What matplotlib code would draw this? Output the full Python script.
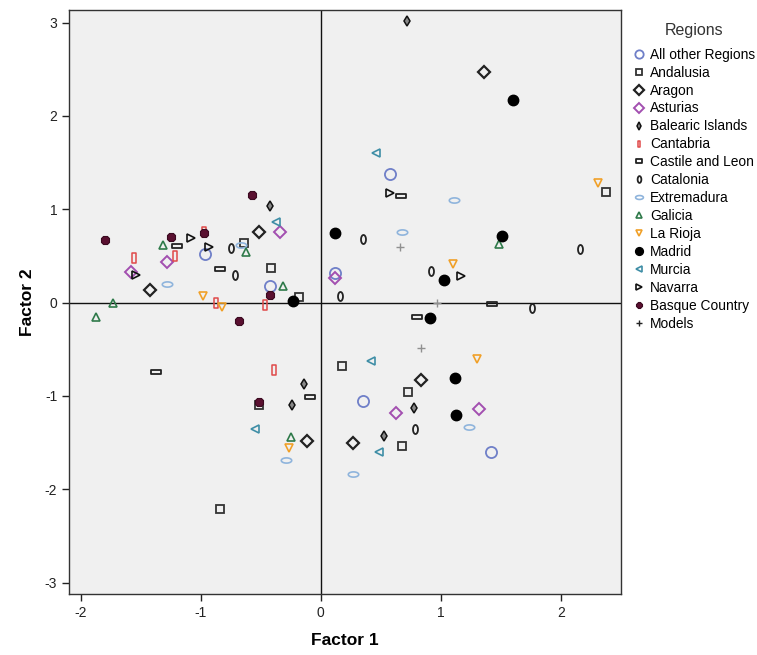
import numpy as np
import matplotlib
matplotlib.use("Agg")
import matplotlib.pyplot as plt
from matplotlib.path import Path

plt.rcParams['font.family'] = ['Liberation Sans', 'DejaVu Sans']
plt.rcParams['axes.unicode_minus'] = False

# ---- data (Factor 1, Factor 2) ----
all_other_x = [-0.96, -0.425, 0.575, 0.12, 0.35, 1.42]
all_other_y = [0.52, 0.18, 1.38, 0.32, -1.05, -1.60]

andalusia_x = [-0.64, -0.41, -0.18, -0.51, -0.84, 2.38, 0.175, 0.73, 0.68]
andalusia_y = [0.64, 0.37, 0.06, -1.10, -2.21, 1.19, -0.68, -0.96, -1.54]

aragon_x = [-0.51, -1.42, -0.11, 1.36, 0.84, 0.27]
aragon_y = [0.76, 0.13, -1.48, 2.47, -0.83, -1.50]

asturias_x = [-0.34, -1.28, -1.58, 0.12, 0.63, 1.32]
asturias_y = [0.76, 0.43, 0.33, 0.26, -1.18, -1.14]

balearic_x = [-0.425, -0.14, -0.24, 0.72, 0.78, 0.53]
balearic_y = [1.035, -0.87, -1.10, 3.02, -1.13, -1.43]

cantabria_x = [-0.97, -1.555, -1.21, -0.87, -0.46, -0.39]
cantabria_y = [0.76, 0.48, 0.50, 0.0, -0.03, -0.72]

castile_x = [-1.20, -0.84, -1.37, -0.09, 0.67, 1.43, 0.80]
castile_y = [0.61, 0.36, -0.74, -1.01, 1.14, -0.02, -0.15]

catalonia_x = [-0.75, -0.71, 0.35, 2.16, 0.92, 0.16, 1.76, 0.79]
catalonia_y = [0.58, 0.30, 0.68, 0.57, 0.34, 0.07, -0.06, -1.35]

extremadura_x = [-1.28, -0.66, -0.29, 1.11, 0.68, 1.24, 0.27]
extremadura_y = [0.20, 0.62, -1.69, 1.10, 0.76, -1.33, -1.84]

galicia_x = [-1.31, -0.62, -0.31, -1.73, -1.87, -0.25, 1.49]
galicia_y = [0.615, 0.54, 0.18, 0.0, -0.15, -1.44, 0.625]

larioja_x = [-0.98, -0.82, -0.26, 2.31, 1.10, 1.30]
larioja_y = [0.07, -0.05, -1.56, 1.28, 0.41, -0.60]

madrid_x = [-0.23, 1.60, 0.12, 1.51, 1.03, 0.91, 1.12, 1.125]
madrid_y = [0.02, 2.17, 0.75, 0.715, 0.245, -0.17, -0.81, -1.20]

murcia_x = [-0.375, -0.55, 0.46, 0.42, 0.49]
murcia_y = [0.865, -1.36, 1.60, -0.63, -1.60]

navarra_x = [-1.08, -1.535, -0.93, 0.575, 1.17]
navarra_y = [0.69, 0.29, 0.60, 1.17, 0.28]

basque_x = [-0.57, -1.80, -1.25, -0.97, -0.42, -0.68, -0.51]
basque_y = [1.15, 0.67, 0.70, 0.74, 0.08, -0.195, -1.07]

models_x = [0.66, 0.97, 0.84]
models_y = [0.59, -0.01, -0.49]

region_names = ["All other Regions", "Andalusia", "Aragon", "Asturias",
                "Balearic Islands", "Cantabria", "Castile and Leon", "Catalonia",
                "Extremadura", "Galicia", "La Rioja", "Madrid", "Murcia",
                "Navarra", "Basque Country", "Models"]

# ---- custom marker shapes ----
def rect_marker(w, h):
    return Path([(-w, -h), (w, -h), (w, h), (-w, h), (-w, -h)],
                [Path.MOVETO, Path.LINETO, Path.LINETO, Path.LINETO, Path.CLOSEPOLY])

def ellipse_marker(w, h, n=40):
    t = np.linspace(0, 2 * np.pi, n)
    verts = list(zip(w * np.cos(t), h * np.sin(t)))
    codes = [Path.MOVETO] + [Path.LINETO] * (n - 2) + [Path.CLOSEPOLY]
    return Path(verts, codes)

vrect = rect_marker(0.4, 1.0)
hrect = rect_marker(1.0, 0.45)
vell = ellipse_marker(0.55, 1.0)
hell = ellipse_marker(1.0, 0.5)

styles = [
    dict(marker='o', ms=8, mfc='none', mec='#6f7fc8', mew=1.3),
    dict(marker='s', ms=6.2, mfc='none', mec='#333333', mew=1.3),
    dict(marker='D', ms=6.5, mfc='none', mec='#222222', mew=1.6),
    dict(marker='D', ms=6.5, mfc='none', mec='#a34fb0', mew=1.4),
    dict(marker='d', ms=5.5, mfc='#888888', mec='#111111', mew=1.1),
    dict(marker=vrect, ms=6.5, mfc='none', mec='#e04a4a', mew=1.1),
    dict(marker=hrect, ms=6.5, mfc='none', mec='#222222', mew=1.3),
    dict(marker=vell, ms=6.5, mfc='none', mec='#222222', mew=1.3),
    dict(marker=hell, ms=7.5, mfc='none', mec='#8fb4dc', mew=1.2),
    dict(marker='^', ms=6, mfc='none', mec='#2f7a4a', mew=1.2),
    dict(marker='v', ms=6, mfc='none', mec='#f0a028', mew=1.2),
    dict(marker='o', ms=7.5, mfc='#000000', mec='#000000', mew=1.0),
    dict(marker='<', ms=6, mfc='none', mec='#3f8ea6', mew=1.2),
    dict(marker='>', ms=6, mfc='none', mec='#111111', mew=1.2),
    dict(marker='8', ms=6, mfc='#5a1030', mec='#3a0a20', mew=0.8),
    dict(marker='+', ms=6, mfc='none', mec='#909090', mew=1.0),
]

data = [
    (all_other_x, all_other_y), (andalusia_x, andalusia_y), (aragon_x, aragon_y),
    (asturias_x, asturias_y), (balearic_x, balearic_y), (cantabria_x, cantabria_y),
    (castile_x, castile_y), (catalonia_x, catalonia_y), (extremadura_x, extremadura_y),
    (galicia_x, galicia_y), (larioja_x, larioja_y), (madrid_x, madrid_y),
    (murcia_x, murcia_y), (navarra_x, navarra_y), (basque_x, basque_y),
    (models_x, models_y),
]

fig = plt.figure(figsize=(7.57, 6.55), dpi=100)
ax = fig.add_axes([69 / 757, 1 - 593.7 / 655, (620.7 - 69) / 757, (593.7 - 10) / 655])
ax.set_facecolor('#f0f0f0')

ax.axhline(0, color='#111111', lw=1.0, zorder=1)
ax.axvline(0, color='#111111', lw=1.0, zorder=1)

handles = []
for (xs, ys), st, name in zip(data, styles, region_names):
    h, = ax.plot(xs, ys, linestyle='none', label=name, zorder=3, **st)
    handles.append(h)

ax.set_xlim(-2.097, 2.5)
ax.set_ylim(-3.12, 3.135)
ax.set_xticks([-2, -1, 0, 1, 2])
ax.set_yticks([-3, -2, -1, 0, 1, 2, 3])
ax.tick_params(direction='out', length=5, width=1, labelsize=10, colors='#222222')
for s in ax.spines.values():
    s.set_color('#333333')
    s.set_linewidth(1.0)

ax.set_xlabel('Factor 1', fontsize=12.5, fontweight='bold', labelpad=10)
ax.set_ylabel('Factor 2', fontsize=12.5, fontweight='bold', labelpad=7)

leg = fig.legend(handles=handles, loc='upper left',
                 bbox_to_anchor=(633 / 757, 1 - 23 / 655),
                 frameon=False, title='Regions', title_fontsize=11.5,
                 fontsize=9.9, labelspacing=0.285, handlelength=0.8,
                 handletextpad=0.45, borderaxespad=0, borderpad=0,
                 markerscale=0.75)
leg.get_title().set_color('#333333')
leg._legend_box.sep = 7
leg.legend_handles[-1].set_markeredgecolor('#222222')

fig.savefig('out.png', dpi=100)
